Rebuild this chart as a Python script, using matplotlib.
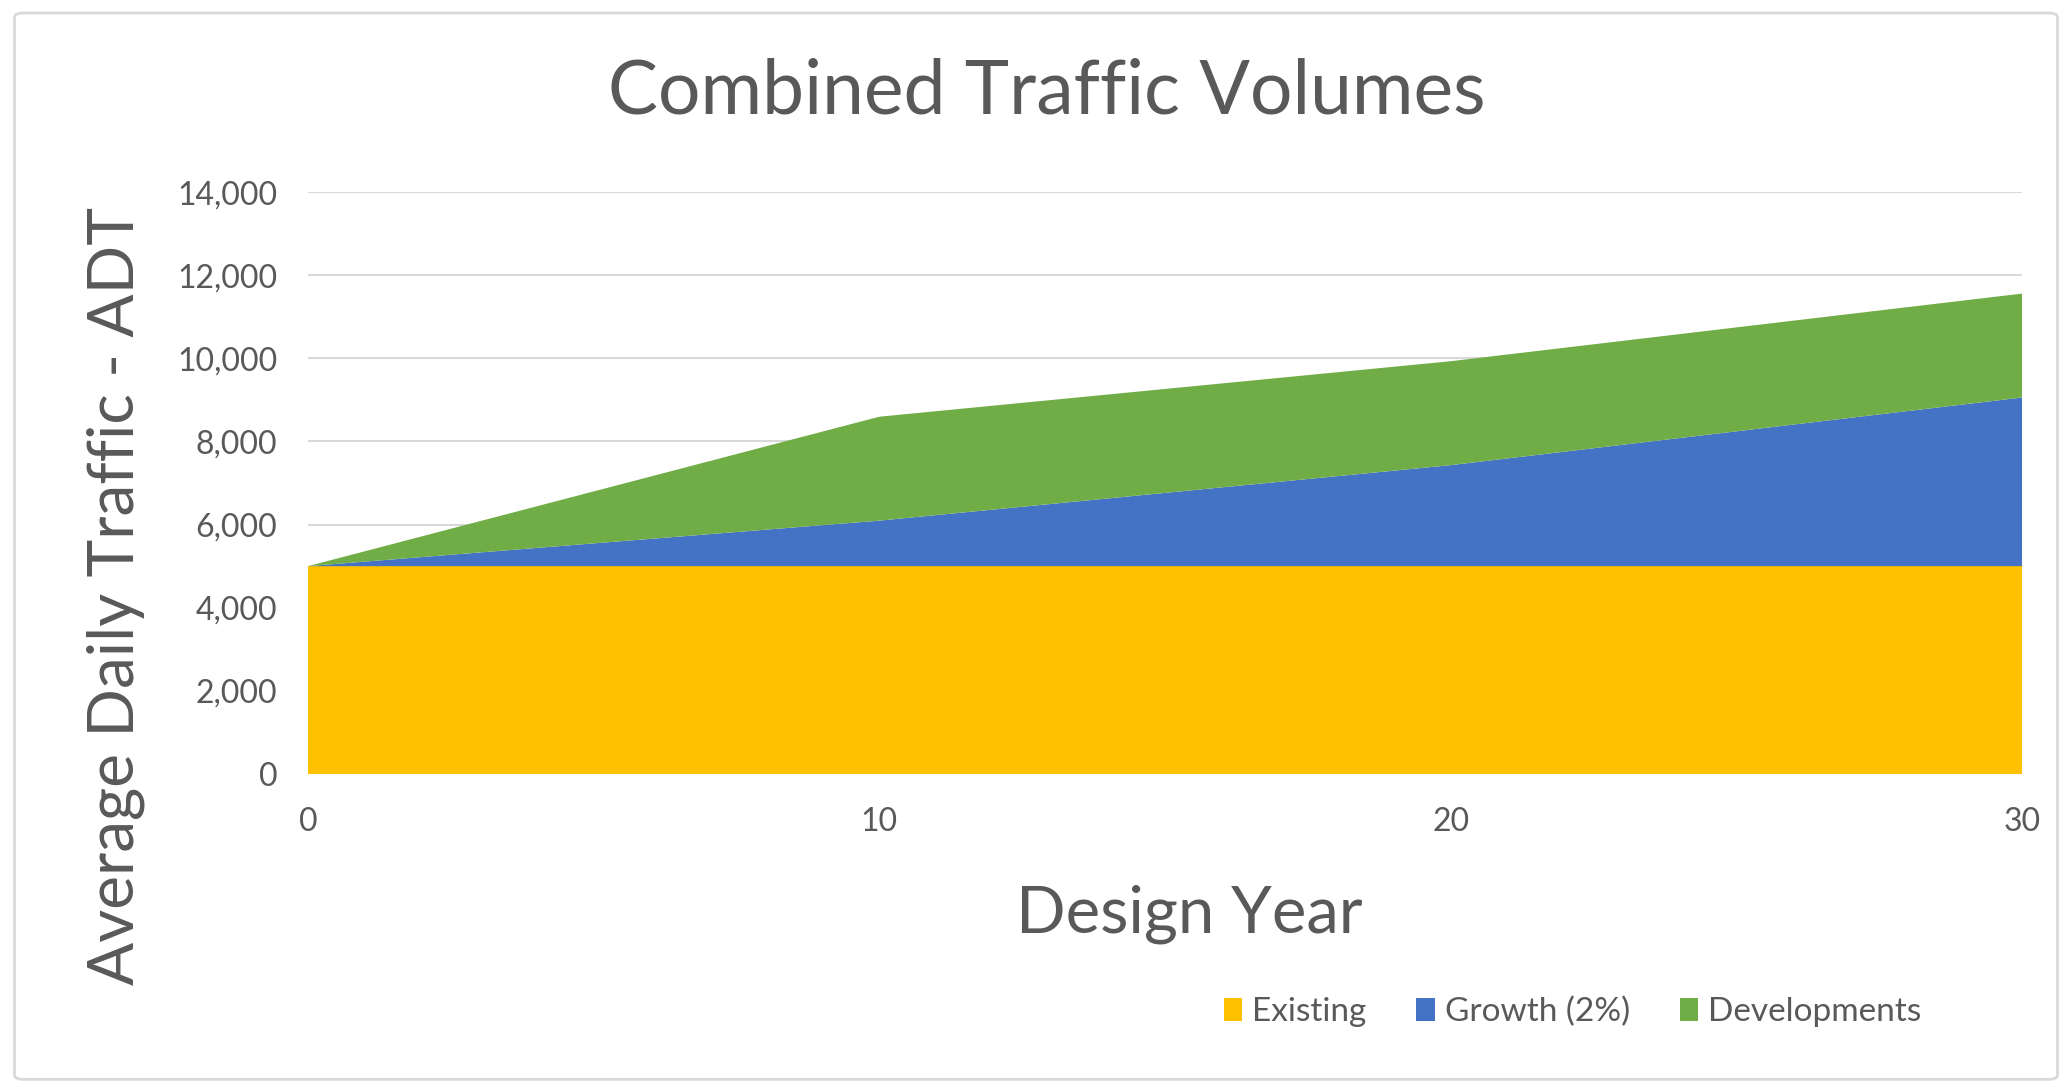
import matplotlib
matplotlib.use('Agg')
import matplotlib.pyplot as plt
from matplotlib.patches import FancyBboxPatch, Patch
from matplotlib.ticker import FuncFormatter

# Data
design_year = [0, 10, 20, 30]
existing = [5000, 5000, 5000, 5000]
growth = [0, 1095, 2430, 4057]
developments = [0, 2500, 2500, 2500]

series_names = ['Existing', 'Growth (2%)', 'Developments']
series_colors = ['#FFC000', '#4472C4', '#70AD47']

y_ticks = [0, 2000, 4000, 6000, 8000, 10000, 12000, 14000]
x_ticks = [0, 10, 20, 30]

plt.rcParams['font.family'] = ['Lato', 'DejaVu Sans']
text_grey = '#595959'

fig = plt.figure(figsize=(20.72, 10.88), dpi=100)

# Light outline around the chart area
frame = FancyBboxPatch((0.007, 0.008), 0.986, 0.98, boxstyle='round,pad=0,rounding_size=0.004',
                       transform=fig.transFigure, fill=False, edgecolor='#D9D9D9', linewidth=2)
fig.patches.append(frame)

ax = fig.add_axes([0.1486, 0.2886, 0.8273, 0.5349])
ax.stackplot(design_year, existing, growth, developments, colors=series_colors, linewidth=0)

ax.set_xlim(0, 30)
ax.set_ylim(0, 14000)
ax.set_xticks(x_ticks)
ax.set_yticks(y_ticks)
ax.yaxis.set_major_formatter(FuncFormatter(lambda v, p: '{:,.0f}'.format(v)))
ax.grid(axis='y', color='#D9D9D9', linewidth=1.5)
ax.set_axisbelow(True)

for side in ['left', 'right', 'top', 'bottom']:
    ax.spines[side].set_visible(False)
ax.tick_params(axis='both', length=0, labelsize=23, colors=text_grey)
ax.tick_params(axis='y', pad=22)
ax.tick_params(axis='x', pad=24)

# axis titles placed as figure text (the y title sits below the axes centre)
fig.text(0.574, 0.160, 'Design Year', ha='center', va='center', fontsize=47, color=text_grey)
fig.text(0.056, 0.452, 'Average Daily Traffic - ADT', ha='center', va='center',
         rotation=90, fontsize=46, color=text_grey)

fig.text(0.505, 0.915, 'Combined Traffic Volumes', ha='center', va='center',
         fontsize=54, color=text_grey)

handles = [Patch(facecolor=c, edgecolor='none') for c in series_colors]
fig.legend(handles, series_names, loc='center', bbox_to_anchor=(0.759, 0.07), ncol=3,
           frameon=False, fontsize=24, labelcolor=text_grey, handlelength=0.55, handleheight=0.7,
           handletextpad=0.3, columnspacing=1.5)

plt.savefig('out.png', dpi=100)
